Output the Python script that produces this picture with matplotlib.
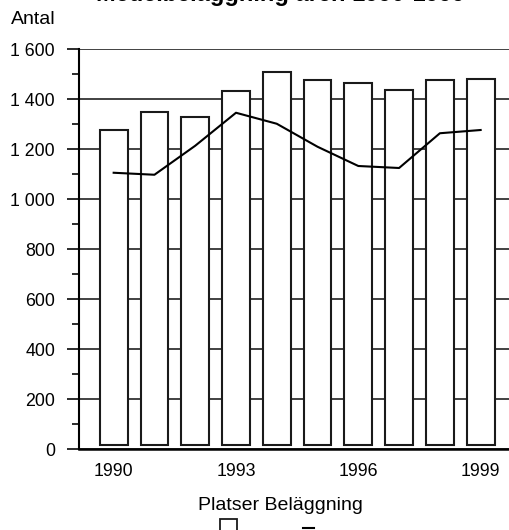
import matplotlib
matplotlib.use("Agg")
import matplotlib.pyplot as plt
from matplotlib.lines import Line2D
from matplotlib.patches import Rectangle
from matplotlib.ticker import FuncFormatter, MultipleLocator

plt.rcParams['font.family'] = ['Liberation Sans', 'DejaVu Sans']

years = [1990, 1991, 1992, 1993, 1994, 1995, 1996, 1997, 1998, 1999]
platser = [1276, 1348, 1329, 1433, 1509, 1476, 1464, 1437, 1476, 1479]
belaggning = [1105, 1097, 1213, 1345, 1301, 1209, 1132, 1124, 1263, 1276]
xtick_years = [1990, 1993, 1996, 1999]
title = "Medelbeläggning åren 1990-1999"
ylabel = "Antal"
legend_labels = ["Platser", "Beläggning"]

BAR_BASE = 15
fig = plt.figure(figsize=(5.1, 5.3), dpi=100)
ax = fig.add_axes([79/510, 1-449/530, 1-79/510, 400/530])

ax.set_axisbelow(True)
ax.yaxis.grid(True, which='major', color='#333333', lw=1.3)
ax.bar(years, [p - BAR_BASE for p in platser], bottom=BAR_BASE, width=0.68,
       color='white', edgecolor='#1a1a1a', lw=1.5, zorder=2)
ax.plot(years, belaggning, color='black', lw=1.5, zorder=3)

ax.set_ylim(0, 1600)
ax.set_xlim(1989.15, 1999.72)
ax.yaxis.set_major_locator(MultipleLocator(200))
ax.yaxis.set_minor_locator(MultipleLocator(100))
ax.yaxis.set_major_formatter(FuncFormatter(lambda v, p: f"{int(v):,}".replace(",", " ")))
ax.tick_params(axis='y', which='major', length=8.6, width=1.3, labelsize=12.8, pad=8.6, color='#1a1a1a')
ax.tick_params(axis='y', which='minor', length=5, width=1.3, color='#1a1a1a')
ax.set_xticks(xtick_years)
ax.tick_params(axis='x', length=0, labelsize=12.8, pad=10)
for s in ['top', 'right']:
    ax.spines[s].set_visible(False)
ax.spines['left'].set_linewidth(1.5)
ax.spines['bottom'].set_linewidth(1.8)

fig.text(11/510, 1-20/530, ylabel, fontsize=14, va='center', ha='left')
fig.text(280/510, 1-1/530, title, fontsize=17, fontweight='bold', ha='center', va='baseline')

fig.text(280/510, 1-506/530, " ".join(legend_labels), fontsize=14, ha='center', va='center')
fig.patches.append(Rectangle((220/510, 1-531/530), 17/510, 12/530, transform=fig.transFigure,
                             facecolor='white', edgecolor='#1a1a1a', lw=1.3, figure=fig))
fig.lines.append(Line2D([303/510, 314/510], [1-528/530, 1-528/530], transform=fig.transFigure,
                        color='black', lw=1.5, figure=fig))

fig.savefig("out.png", dpi=100)
